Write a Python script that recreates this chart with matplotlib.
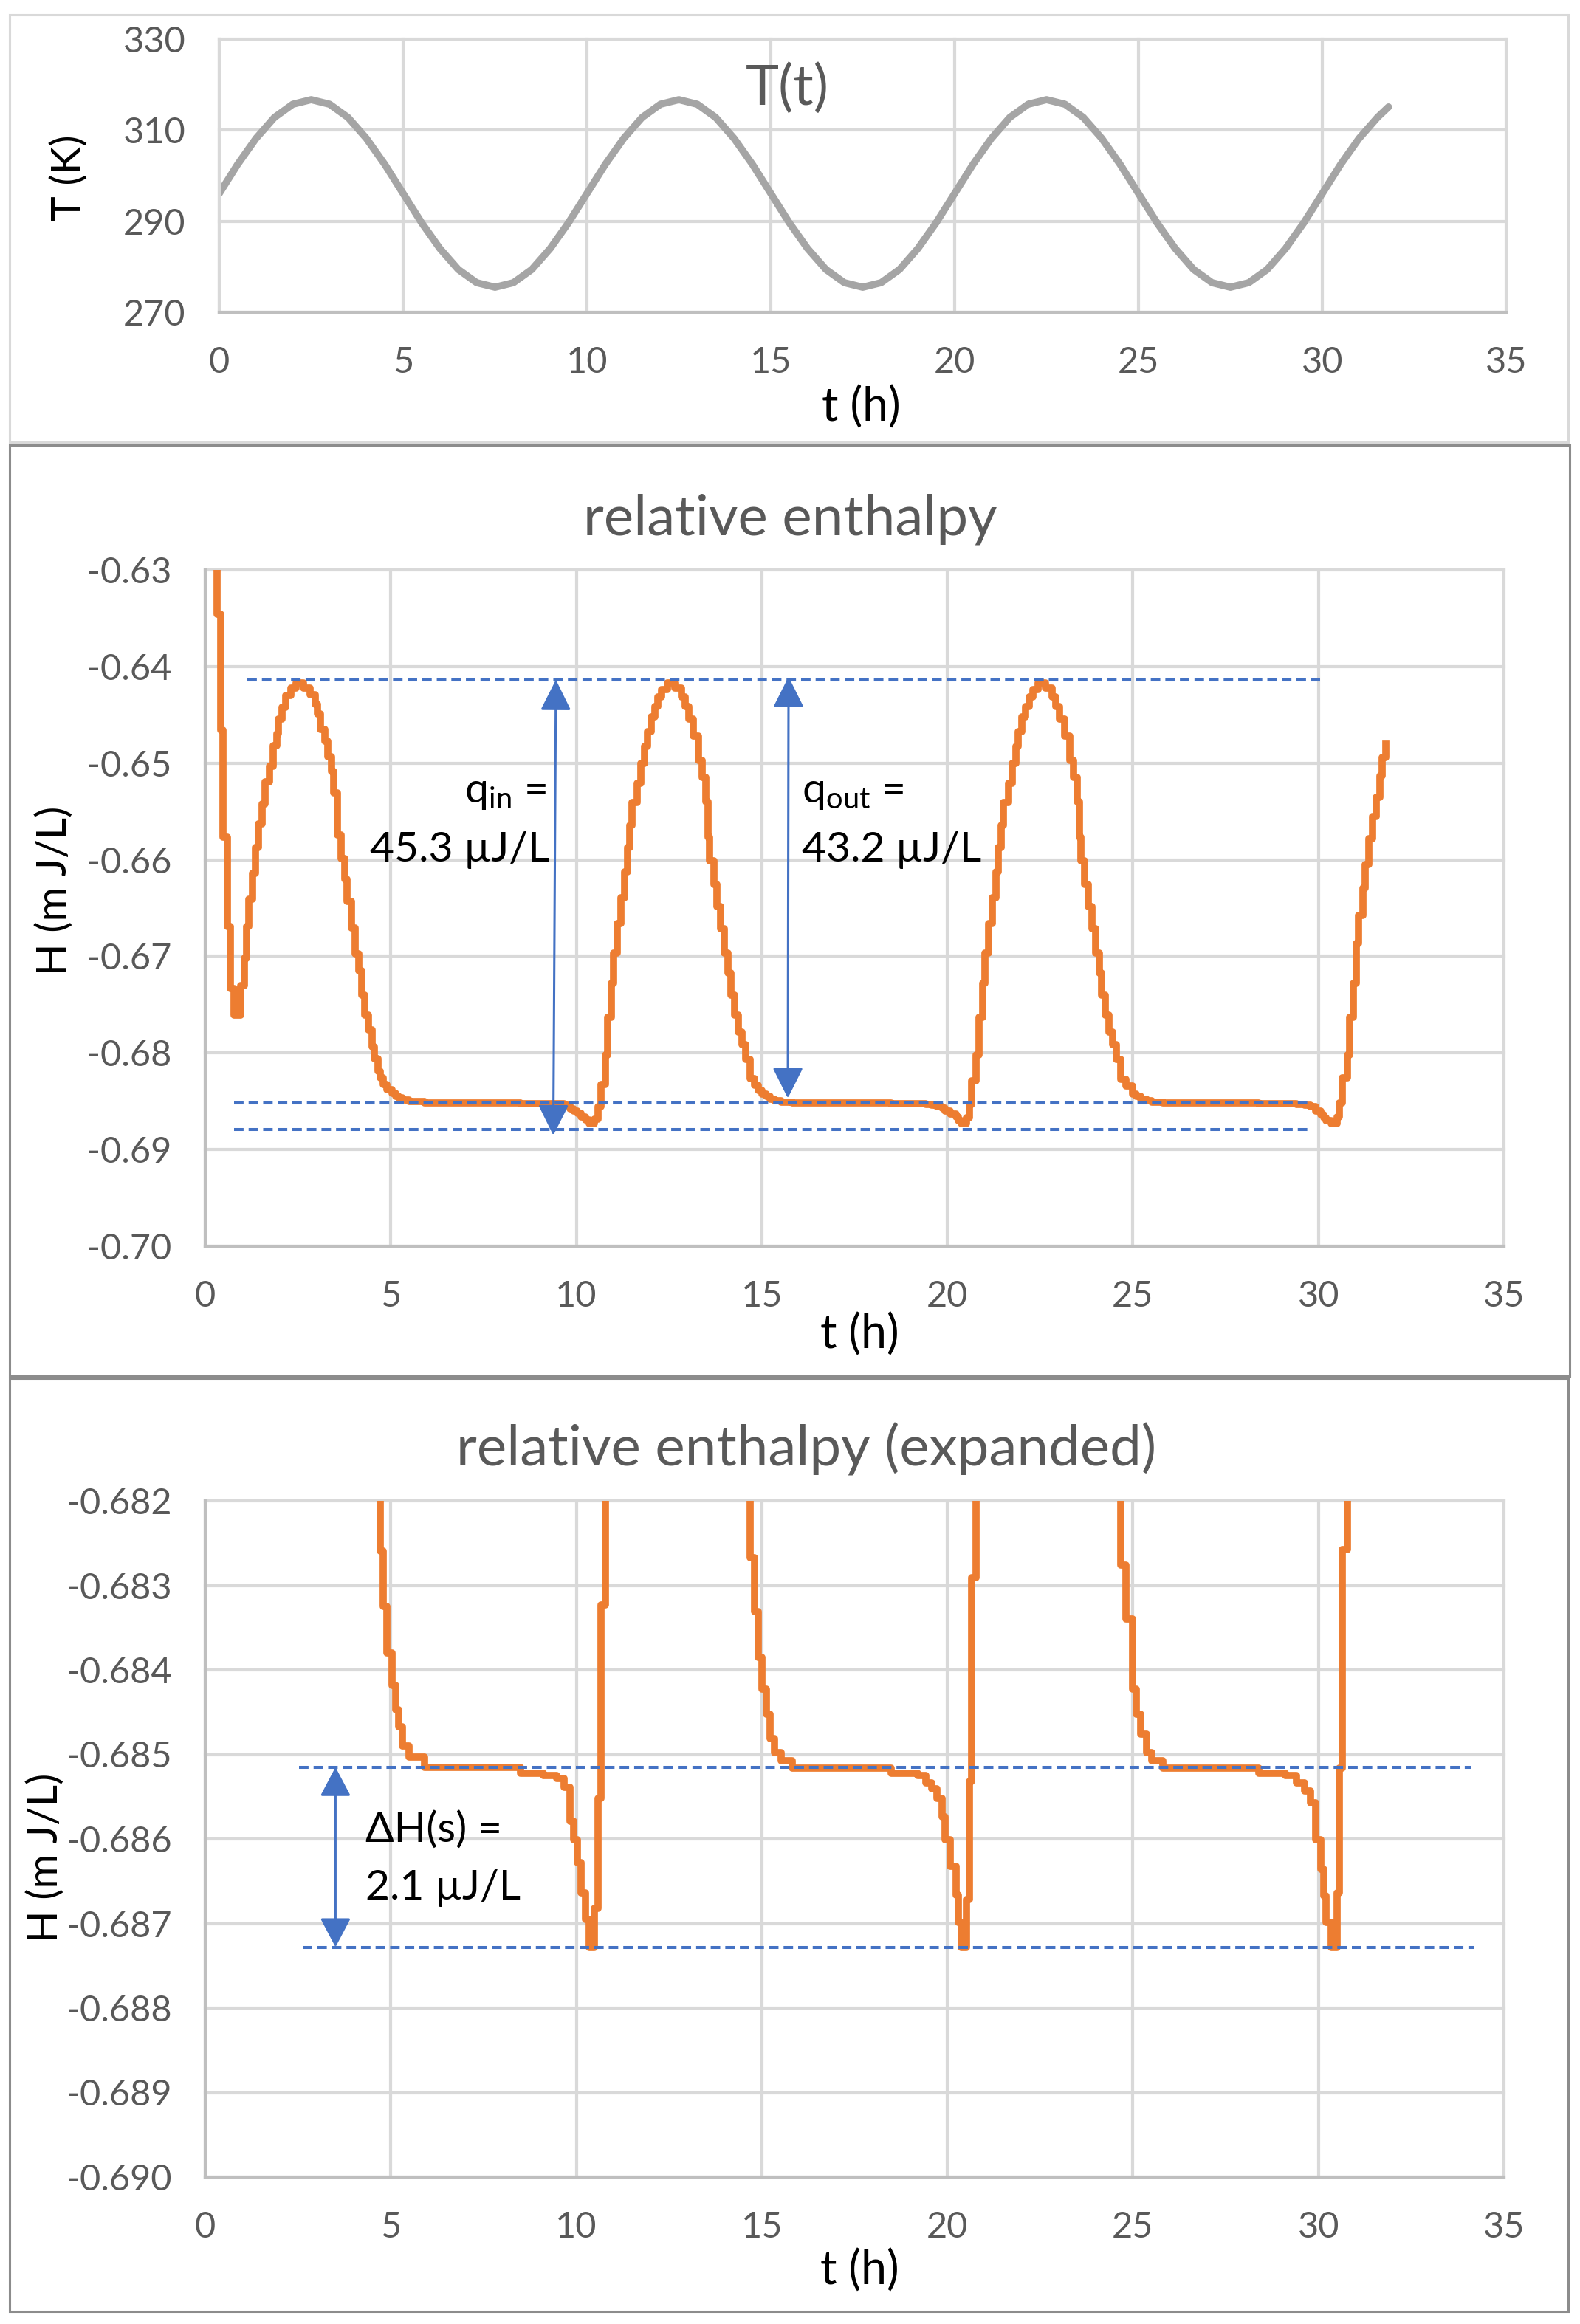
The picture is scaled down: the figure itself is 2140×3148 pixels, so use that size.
import matplotlib
matplotlib.use("Agg")
import matplotlib.pyplot as plt
from matplotlib.patches import Rectangle

plt.rcParams['font.family'] = ['Lato', 'DejaVu Sans']
plt.rcParams['mathtext.fontset'] = 'custom'
plt.rcParams['mathtext.rm'] = 'Lato'
plt.rcParams['mathtext.it'] = 'Lato:italic'
plt.rcParams['mathtext.bf'] = 'Lato:bold'

# ---------------- data ----------------
# temperature programme T(t)
t_T = [0.0, 0.5, 1.0, 1.5, 2.0, 2.5, 3.0, 3.5, 4.0, 4.5,
       5.0, 5.5, 6.0, 6.5, 7.0, 7.5, 8.0, 8.5, 9.0, 9.5,
       10.0, 10.5, 11.0, 11.5, 12.0, 12.5, 13.0, 13.5, 14.0, 14.5,
       15.0, 15.5, 16.0, 16.5, 17.0, 17.5, 18.0, 18.5, 19.0, 19.5,
       20.0, 20.5, 21.0, 21.5, 22.0, 22.5, 23.0, 23.5, 24.0, 24.5,
       25.0, 25.5, 26.0, 26.5, 27.0, 27.5, 28.0, 28.5, 29.0, 29.5,
       30.0, 30.5, 31.0, 31.5, 31.8]
T_K = [296.1, 302.5, 308.2, 312.8, 315.7, 316.7, 315.7, 312.8, 308.2, 302.5,
       296.1, 289.7, 284.0, 279.4, 276.5, 275.5, 276.5, 279.4, 284.0, 289.7,
       296.1, 302.5, 308.2, 312.8, 315.7, 316.7, 315.7, 312.8, 308.2, 302.5,
       296.1, 289.7, 284.0, 279.4, 276.5, 275.5, 276.5, 279.4, 284.0, 289.7,
       296.1, 302.5, 308.2, 312.8, 315.7, 316.7, 315.7, 312.8, 308.2, 302.5,
       296.1, 289.7, 284.0, 279.4, 276.5, 275.5, 276.5, 279.4, 284.0, 289.7,
       296.1, 302.5, 308.2, 312.8, 315.1]

# relative enthalpy H(t) in mJ/L (stepped record)
t_H = [0.31, 0.31, 0.42, 0.47, 0.60, 0.67, 0.78, 0.95, 1.05, 1.11,
       1.18, 1.28, 1.36, 1.44, 1.54, 1.61, 1.74, 1.84, 1.93, 1.97,
       2.07, 2.17, 2.31, 2.45, 2.65, 2.83, 2.97, 3.03, 3.10, 3.23,
       3.30, 3.40, 3.46, 3.56, 3.66, 3.76, 3.83, 3.93, 4.03, 4.13,
       4.22, 4.29, 4.39, 4.49, 4.56, 4.66, 4.72, 4.79, 4.90, 5.03,
       5.14, 5.21, 5.32, 5.49, 5.91, 8.49, 9.12, 9.47, 9.68, 9.82,
       9.93, 10.03, 10.13, 10.24, 10.35, 10.49, 10.59, 10.66, 10.78, 10.85,
       10.95, 11.01, 11.11, 11.21, 11.31, 11.38, 11.45, 11.51, 11.64, 11.74,
       11.84, 11.91, 12.01, 12.11, 12.20, 12.30, 12.45, 12.65, 12.83, 12.93,
       13.03, 13.16, 13.30, 13.40, 13.50, 13.55, 13.60, 13.70, 13.79, 13.89,
       13.99, 14.09, 14.16, 14.26, 14.36, 14.46, 14.56, 14.68, 14.80, 14.91,
       15.01, 15.12, 15.23, 15.35, 15.52, 15.81, 18.49, 19.21, 19.43, 19.57,
       19.72, 19.86, 19.94, 20.08, 20.23, 20.29, 20.37, 20.51, 20.59, 20.66,
       20.78, 20.85, 20.95, 21.01, 21.11, 21.21, 21.31, 21.38, 21.45, 21.51,
       21.64, 21.74, 21.84, 21.91, 22.01, 22.11, 22.20, 22.30, 22.45, 22.65,
       22.83, 22.93, 23.03, 23.16, 23.30, 23.40, 23.50, 23.55, 23.60, 23.70,
       23.79, 23.89, 23.99, 24.09, 24.16, 24.26, 24.36, 24.46, 24.56, 24.68,
       24.81, 25.00, 25.10, 25.22, 25.36, 25.51, 25.80, 28.40, 29.12, 29.41,
       29.63, 29.78, 29.92, 30.07, 30.14, 30.21, 30.35, 30.50, 30.57, 30.65,
       30.78, 30.85, 30.95, 31.02, 31.09, 31.19, 31.26, 31.36, 31.45, 31.55,
       31.65, 31.72, 31.82]
H_mJ = [-0.6200, -0.6346, -0.6466, -0.6577, -0.6669, -0.6733, -0.6761, -0.6730, -0.6702, -0.6669,
        -0.6641, -0.6614, -0.6587, -0.6563, -0.6542, -0.6519, -0.6503, -0.6482, -0.6470, -0.6454,
        -0.6442, -0.6430, -0.6422, -0.6417, -0.6422, -0.6429, -0.6439, -0.6449, -0.6465, -0.6477,
        -0.6493, -0.6509, -0.6531, -0.6574, -0.6599, -0.6620, -0.6643, -0.6671, -0.6697, -0.6715,
        -0.6740, -0.6761, -0.6776, -0.6794, -0.6806, -0.6819, -0.68259, -0.68325, -0.68380, -0.68418,
        -0.68447, -0.68467, -0.68490, -0.68503, -0.68515, -0.68522, -0.68525, -0.68528, -0.68539, -0.68579,
        -0.68601, -0.68628, -0.68664, -0.68695, -0.68728, -0.68682, -0.68552, -0.68323, -0.68017, -0.67634,
        -0.67276, -0.66969, -0.66663, -0.66395, -0.66126, -0.65871, -0.65641, -0.65411, -0.65207, -0.65000,
        -0.64824, -0.64670, -0.64517, -0.64415, -0.64313, -0.64236, -0.64170, -0.64224, -0.64313, -0.64415,
        -0.64540, -0.64720, -0.64970, -0.65150, -0.65400, -0.65770, -0.66011, -0.66254, -0.66484, -0.66714,
        -0.66969, -0.67174, -0.67404, -0.67608, -0.67787, -0.67914, -0.68067, -0.68267, -0.68331, -0.68385,
        -0.68423, -0.68452, -0.68481, -0.68498, -0.68507, -0.68516, -0.68522, -0.68525, -0.68534, -0.68541,
        -0.68552, -0.68574, -0.68601, -0.68632, -0.68666, -0.68699, -0.68728, -0.68672, -0.68532, -0.68291,
        -0.68017, -0.67634, -0.67276, -0.66969, -0.66663, -0.66395, -0.66126, -0.65871, -0.65641, -0.65411,
        -0.65207, -0.65000, -0.64824, -0.64670, -0.64517, -0.64415, -0.64313, -0.64236, -0.64170, -0.64224,
        -0.64313, -0.64415, -0.64540, -0.64720, -0.64970, -0.65150, -0.65400, -0.65770, -0.66011, -0.66254,
        -0.66484, -0.66714, -0.66969, -0.67174, -0.67404, -0.67608, -0.67787, -0.67914, -0.68067, -0.68276,
        -0.68340, -0.68423, -0.68452, -0.68476, -0.68498, -0.68507, -0.68516, -0.68522, -0.68525, -0.68534,
        -0.68543, -0.68557, -0.68601, -0.68636, -0.68667, -0.68699, -0.68728, -0.68664, -0.68516, -0.68258,
        -0.68017, -0.67634, -0.67276, -0.66865, -0.66573, -0.66292, -0.66050, -0.65783, -0.65554, -0.65351,
        -0.65134, -0.64944, -0.64804]

# reference levels / annotations (mJ/L)
H_peak = -0.6414
H_plateau2 = -0.6852
H_low2 = -0.6879
H_plateau3 = -0.68515
H_low3 = -0.68728
q_in_text = ["q$_{\\mathrm{in}}$ = ", "45.3 \u00b5J/L"]
q_out_text = ["q$_{\\mathrm{out}}$ =", "43.2 \u00b5J/L"]
dH_text = ["\u0394H(s) =", "2.1 \u00b5J/L"]

# axis ticks
x_ticks = [0, 5, 10, 15, 20, 25, 30, 35]
x_labels = ["0", "5", "10", "15", "20", "25", "30", "35"]
y1_ticks = [270, 290, 310, 330]
y1_labels = ["270", "290", "310", "330"]
y2_ticks = [-0.70, -0.69, -0.68, -0.67, -0.66, -0.65, -0.64, -0.63]
y2_labels = ["-0.70", "-0.69", "-0.68", "-0.67", "-0.66", "-0.65", "-0.64", "-0.63"]
y3_ticks = [-0.690, -0.689, -0.688, -0.687, -0.686, -0.685, -0.684, -0.683, -0.682]
y3_labels = ["-0.690", "-0.689", "-0.688", "-0.687", "-0.686", "-0.685", "-0.684", "-0.683", "-0.682"]

titles = ["T(t)", "relative enthalpy", "relative enthalpy (expanded)"]
xlabel = "t (h)"
ylabels = ["T (K)", "H (m J/L)", "H (m J/L)"]

# ---------------- style ----------------
ORANGE = '#ED7D31'
TGRAY = '#A5A5A5'
BLUE = '#4472C4'
GRID = '#D9D9D9'
SPINE = '#BFBFBF'
TXT = '#595959'

W, Hh = 2140, 3148
fig = plt.figure(figsize=(W / 100, Hh / 100), dpi=100)


def fx(x):
    return x / W


def fy(y):
    return 1 - y / Hh


def add_ax(l, t, r, b):
    return fig.add_axes([fx(l), fy(b), (r - l) / W, (b - t) / Hh])


def frame(l, t, r, b, color):
    fig.add_artist(Rectangle((fx(l), fy(b)), (r - l) / W, (b - t) / Hh,
                             transform=fig.transFigure, fill=False,
                             ec=color, lw=2.2))


def style(ax, yt, ylab, ylim, left_color):
    ax.set_xlim(0, 35)
    ax.set_ylim(*ylim)
    ax.set_xticks(x_ticks)
    ax.set_xticklabels(x_labels)
    ax.set_yticks(yt)
    ax.set_yticklabels(ylab)
    ax.grid(True, color=GRID, lw=3)
    ax.set_axisbelow(True)
    for ln in ax.get_xgridlines() + ax.get_ygridlines():
        ln.set_clip_on(False)
    for s in ['top', 'right']:
        ax.spines[s].set_visible(False)
    ax.spines['left'].set_color(left_color)
    ax.spines['bottom'].set_color(SPINE)
    ax.spines['left'].set_linewidth(3)
    ax.spines['bottom'].set_linewidth(3)
    ax.tick_params(axis='both', length=0, labelsize=35, labelcolor=TXT)
    ax.tick_params(axis='y', pad=33)
    ax.tick_params(axis='x', pad=33)


frame(13, 20, 2124, 599, '#D9D9D9')
frame(13, 603, 2126, 1864, '#8C8C8C')
frame(13, 1867, 2124, 3131, '#8C8C8C')

LW = 7.0

# ---- panel 1 ----
ax1 = add_ax(297, 53, 2040, 423)
style(ax1, y1_ticks, y1_labels, (270, 330), GRID)
ax1.plot(t_T, T_K, color=TGRAY, lw=LW, solid_capstyle='round')

# ---- panel 2 ----
ax2 = add_ax(278, 772, 2037, 1688)
style(ax2, y2_ticks, y2_labels, (-0.70, -0.63), SPINE)
ax2.plot(t_H, H_mJ, color=ORANGE, lw=LW, drawstyle='steps-post', zorder=3)
dash = (0, (3.2, 1.7))
ax2.plot([1.13, 30.04], [H_peak, H_peak], color=BLUE, lw=2.9, ls=dash, zorder=4)
ax2.plot([0.77, 29.78], [H_plateau2, H_plateau2], color=BLUE, lw=2.9, ls=dash, zorder=4)
ax2.plot([0.77, 29.75], [H_low2, H_low2], color=BLUE, lw=2.9, ls=dash, zorder=4)
arrow_style = '<|-|>,head_length=0.4,head_width=0.2'
ax2.annotate('', xy=(9.45, -0.64137), xytext=(9.38, -0.68853),
             arrowprops=dict(arrowstyle=arrow_style, mutation_scale=65, lw=2.2,
                             color=BLUE, shrinkA=0, shrinkB=0), zorder=5)
ax2.annotate('', xy=(15.72, -0.64105), xytext=(15.70, -0.68468),
             arrowprops=dict(arrowstyle=arrow_style, mutation_scale=65, lw=2.2,
                             color=BLUE, shrinkA=0, shrinkB=0), zorder=5)
ax2.text(9.28, -0.65405, q_in_text[0], ha='right', va='baseline', fontsize=41, color='black')
ax2.text(9.28, -0.66015, q_in_text[1], ha='right', va='baseline', fontsize=41, color='black')
ax2.text(16.08, -0.65405, q_out_text[0], ha='left', va='baseline', fontsize=41, color='black')
ax2.text(16.08, -0.66015, q_out_text[1], ha='left', va='baseline', fontsize=41, color='black')

# ---- panel 3 ----
ax3 = add_ax(278, 2033, 2037, 2949)
style(ax3, y3_ticks, y3_labels, (-0.690, -0.682), SPINE)
ax3.plot(t_H, H_mJ, color=ORANGE, lw=LW, drawstyle='steps-post', zorder=3)
ax3.plot([2.53, 34.1], [H_plateau3, H_plateau3], color=BLUE, lw=2.9, ls=dash, zorder=4)
ax3.plot([2.62, 34.2], [H_low3, H_low3], color=BLUE, lw=2.9, ls=dash, zorder=4)
ax3.annotate('', xy=(3.51, H_plateau3), xytext=(3.51, H_low3),
             arrowprops=dict(arrowstyle='<|-|>,head_length=0.38,head_width=0.2',
                             mutation_scale=65, lw=2.2, color=BLUE,
                             shrinkA=0, shrinkB=0), zorder=5)
ax3.text(4.31, -0.68603, dH_text[0], ha='left', va='baseline', fontsize=41, color='black')
ax3.text(4.31, -0.68672, dH_text[1], ha='left', va='baseline', fontsize=41, color='black')

# ---- titles and axis titles ----
fig.text(fx(1066), fy(120), titles[0], ha='center', va='center', fontsize=55, color=TXT)
fig.text(fx(1070), fy(703), titles[1], ha='center', va='center', fontsize=55, color=TXT)
fig.text(fx(1092), fy(1963), titles[2], ha='center', va='center', fontsize=55, color=TXT)

fig.text(fx(1166), fy(552), xlabel, ha='center', va='center', fontsize=45, color='black')
fig.text(fx(1164), fy(1808), xlabel, ha='center', va='center', fontsize=45, color='black')
fig.text(fx(1164), fy(3076), xlabel, ha='center', va='center', fontsize=45, color='black')
fig.text(fx(94), fy(241), ylabels[0], ha='center', va='center', rotation=90, fontsize=41, color='black')
fig.text(fx(74), fy(1206), ylabels[1], ha='center', va='center', rotation=90, fontsize=41, color='black')
fig.text(fx(62), fy(2516), ylabels[2], ha='center', va='center', rotation=90, fontsize=41, color='black')

fig.savefig('out.png', dpi=100, facecolor='white')
